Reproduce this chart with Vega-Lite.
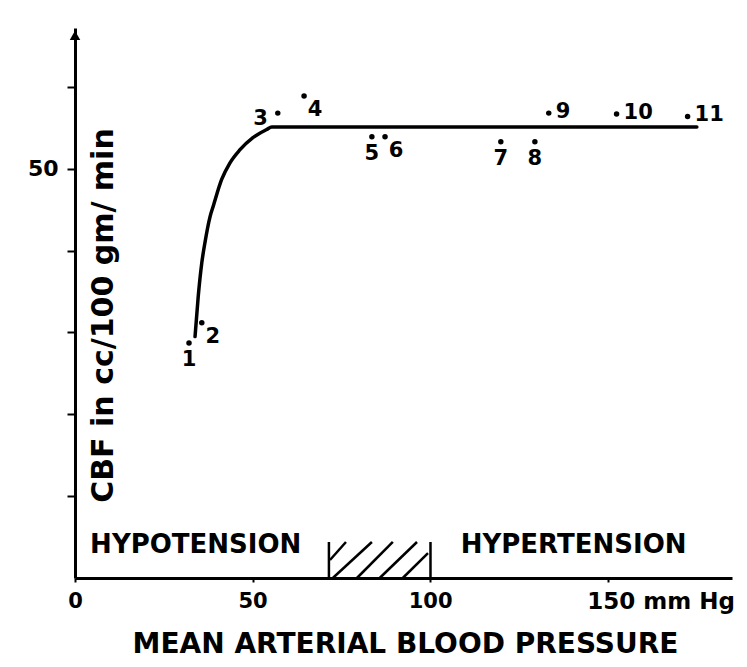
{
  "$schema": "https://vega.github.io/schema/vega-lite/v6.json",
  "width": 657,
  "height": 550,
  "autosize": "none",
  "padding": {"left": 75, "top": 28, "right": 15, "bottom": 89},
  "background": "white",
  "config": {
    "view": {"stroke": null},
    "font": "DejaVu Sans",
    "axis": {"grid": false}
  },
  "datasets": {
    "curve": [
      {"x": 33.8, "y": 29.5},
      {"x": 34.7, "y": 34.4},
      {"x": 35.7, "y": 38.5},
      {"x": 36.6, "y": 41.0},
      {"x": 38.0, "y": 44.1},
      {"x": 38.9, "y": 45.4},
      {"x": 41.3, "y": 48.7},
      {"x": 43.6, "y": 50.7},
      {"x": 46.4, "y": 52.3},
      {"x": 50.1, "y": 53.8},
      {"x": 54.0, "y": 54.8},
      {"x": 55.4, "y": 55.1},
      {"x": 175.1, "y": 55.1}
    ],
    "obs": [
      {"id": "1", "x": 32.1, "y": 28.7, "side": "below"},
      {"id": "2", "x": 35.7, "y": 31.2, "side": "belowright"},
      {"id": "3", "x": 57.1, "y": 56.8, "side": "left"},
      {"id": "4", "x": 64.5, "y": 58.9, "side": "belowright"},
      {"id": "5", "x": 83.6, "y": 53.9, "side": "below"},
      {"id": "6", "x": 87.3, "y": 53.9, "side": "belowright"},
      {"id": "7", "x": 119.9, "y": 53.3, "side": "below"},
      {"id": "8", "x": 129.5, "y": 53.3, "side": "below"},
      {"id": "9", "x": 133.4, "y": 56.8, "side": "right"},
      {"id": "10", "x": 152.5, "y": 56.7, "side": "right"},
      {"id": "11", "x": 172.5, "y": 56.4, "side": "right"}
    ],
    "zones": [
      {"label": "HYPOTENSION", "x": 34.0, "y": 3.05},
      {"label": "HYPERTENSION", "x": 140.4, "y": 3.05}
    ],
    "hatch": [
      {"x": 71.5, "y": 0, "x2": 71.5, "y2": 4.4},
      {"x": 100.1, "y": 0, "x2": 100.1, "y2": 4.4},
      {"x": 71.8, "y": 2.2, "x2": 76.3, "y2": 4.4},
      {"x": 72.6, "y": 0, "x2": 83.6, "y2": 4.4},
      {"x": 79.4, "y": 0, "x2": 89.5, "y2": 4.4},
      {"x": 85.8, "y": 0, "x2": 96.3, "y2": 4.4},
      {"x": 92.3, "y": 0, "x2": 99.4, "y2": 3.05}
    ],
    "arrow": [{"x": 0, "y": 66.3}]
  },
  "encoding": {
    "x": {
      "field": "x",
      "type": "quantitative",
      "scale": {"domain": [0, 185], "nice": false, "zero": false},
      "axis": {
        "values": [0, 50, 100, 150],
        "labelExpr": "datum.value == 150 ? '150 mm Hg' : datum.label",
        "labelAlign": {"condition": {"test": "datum.value == 150", "value": "left"}, "value": "center"},
        "labelOffset": {"condition": {"test": "datum.value == 150", "value": -21}, "value": 0},
        "labelFontSize": {"condition": {"test": "datum.value == 150", "value": 23}, "value": 21},
        "labelFontWeight": "bold",
        "labelColor": "black",
        "labelBaseline": "top",
        "labelPadding": 8,
        "labelOverlap": false,
        "labelFlush": false,
        "labelBound": false,
        "tickSize": 4,
        "tickWidth": 2,
        "tickColor": "black",
        "domainColor": "black",
        "domainWidth": 3,
        "title": "MEAN ARTERIAL BLOOD PRESSURE",
        "titleFontSize": 28,
        "titleFontWeight": "bold",
        "titleColor": "black",
        "titleX": 330,
        "titleY": 74,
        "titleAlign": "center",
        "titleBaseline": "alphabetic"
      }
    },
    "y": {
      "field": "y",
      "type": "quantitative",
      "scale": {"domain": [0, 67.2], "nice": false},
      "axis": {
        "values": [10, 20, 30, 40, 50, 60],
        "labelExpr": "datum.value == 50 ? '50' : ''",
        "labelFontSize": 22,
        "labelFontWeight": "bold",
        "labelColor": "black",
        "labelPadding": 9,
        "tickSize": 8,
        "tickWidth": 2,
        "tickColor": "black",
        "domainColor": "black",
        "domainWidth": 3,
        "title": "CBF in cc/100 gm/ min",
        "titleFontSize": 30,
        "titleFontWeight": "bold",
        "titleColor": "black",
        "titleAngle": -90,
        "titleX": 37,
        "titleY": 287,
        "titleAlign": "center",
        "titleBaseline": "alphabetic"
      }
    }
  },
  "layer": [
    {
      "data": {"name": "curve"},
      "mark": {"type": "line", "interpolate": "monotone", "color": "black", "strokeWidth": 3.5, "strokeCap": "round"}
    },
    {
      "data": {"name": "hatch"},
      "mark": {"type": "rule", "color": "black", "strokeWidth": 2.5},
      "encoding": {
        "x2": {"field": "x2"},
        "y2": {"field": "y2"}
      }
    },
    {
      "data": {"name": "obs"},
      "mark": {"type": "point", "filled": true, "color": "black", "size": 30, "opacity": 1}
    },
    {
      "data": {"name": "obs"},
      "transform": [{"filter": "datum.side == 'below'"}],
      "mark": {"type": "text", "fontSize": 21, "fontWeight": "bold", "color": "black", "dx": 0, "dy": 17, "align": "center", "baseline": "middle"},
      "encoding": {"text": {"field": "id"}}
    },
    {
      "data": {"name": "obs"},
      "transform": [{"filter": "datum.side == 'belowright'"}],
      "mark": {"type": "text", "fontSize": 21, "fontWeight": "bold", "color": "black", "dx": 11, "dy": 14, "align": "center", "baseline": "middle"},
      "encoding": {"text": {"field": "id"}}
    },
    {
      "data": {"name": "obs"},
      "transform": [{"filter": "datum.side == 'left'"}],
      "mark": {"type": "text", "fontSize": 21, "fontWeight": "bold", "color": "black", "dx": -10, "dy": 6, "align": "right", "baseline": "middle"},
      "encoding": {"text": {"field": "id"}}
    },
    {
      "data": {"name": "obs"},
      "transform": [{"filter": "datum.side == 'right'"}],
      "mark": {"type": "text", "fontSize": 21, "fontWeight": "bold", "color": "black", "dx": 7, "dy": -1, "align": "left", "baseline": "middle"},
      "encoding": {"text": {"field": "id"}}
    },
    {
      "data": {"name": "zones"},
      "mark": {"type": "text", "fontSize": 26, "fontWeight": "bold", "color": "black", "align": "center", "baseline": "alphabetic"},
      "encoding": {"text": {"field": "label"}}
    },
    {
      "data": {"name": "arrow"},
      "mark": {"type": "point", "shape": "triangle-up", "filled": true, "color": "black", "size": 110, "opacity": 1}
    }
  ]
}
